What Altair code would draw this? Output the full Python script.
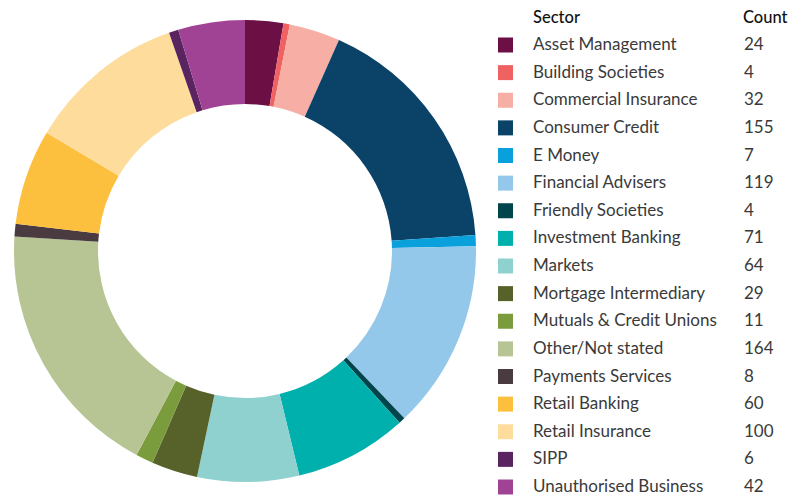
import altair as alt
import pandas as pd

sectors = ["Asset Management", "Building Societies", "Commercial Insurance", "Consumer Credit",
           "E Money", "Financial Advisers", "Friendly Societies", "Investment Banking", "Markets",
           "Mortgage Intermediary", "Mutuals & Credit Unions", "Other/Not stated",
           "Payments Services", "Retail Banking", "Retail Insurance", "SIPP",
           "Unauthorised Business"]
counts = [24, 4, 32, 155, 7, 119, 4, 71, 64, 29, 11, 164, 8, 60, 100, 6, 42]
colors = ["#6B0F45", "#F06262", "#F7AEA5", "#0A4268", "#0AA0DC", "#93C8EA", "#00454B",
          "#00B0AD", "#8ED1CF", "#56622A", "#7B9C3C", "#B7C594", "#4A3B41", "#FDBF3E",
          "#FDDC9C", "#5A2460", "#A14394"]

df = pd.DataFrame({"Sector": sectors, "Count": counts, "idx": list(range(len(sectors)))})

FONT = "Lato"
TXT = "#3a3a3a"

color = alt.Color("Sector:N", scale=alt.Scale(domain=sectors, range=colors), legend=None)
yrow = alt.Y("Sector:N", sort=sectors, axis=None,
             scale=alt.Scale(type="point", range=[37, 479], padding=0))

base = alt.Chart(df)

donut = base.mark_arc(radius=231, innerRadius=147).encode(
    theta=alt.Theta("Count:Q", stack=True),
    color=color,
    order=alt.Order("idx:Q"),
    x=alt.value(237),
    y=alt.value(243),
)

squares = base.mark_square(size=225, opacity=1).encode(
    x=alt.value(497.5), y=yrow, color=color
)

names = base.mark_text(align="left", baseline="middle", font=FONT, fontSize=17, color=TXT).encode(
    x=alt.value(525), y=yrow, text="Sector:N"
)

nums = base.mark_text(align="left", baseline="middle", font=FONT, fontSize=17, color=TXT).encode(
    x=alt.value(736), y=yrow, text="Count:Q"
)

hdr = pd.DataFrame({"label": ["Sector", "Count"], "px": [525, 735]})
header = alt.Chart(hdr).mark_text(align="left", baseline="middle", font=FONT, fontSize=16.5,
                                  fontWeight=500, color="#111111").encode(
    x=alt.X("px:Q", scale=None), y=alt.value(10), text="label:N"
)

chart = alt.layer(donut, squares, names, nums, header).resolve_scale(y="independent").properties(
    width=780, height=487, padding=0, autosize=alt.AutoSizeParams(type="none")
).configure_view(stroke=None)

chart.save("out.html", embed_options={"renderer": "svg", "actions": False})
